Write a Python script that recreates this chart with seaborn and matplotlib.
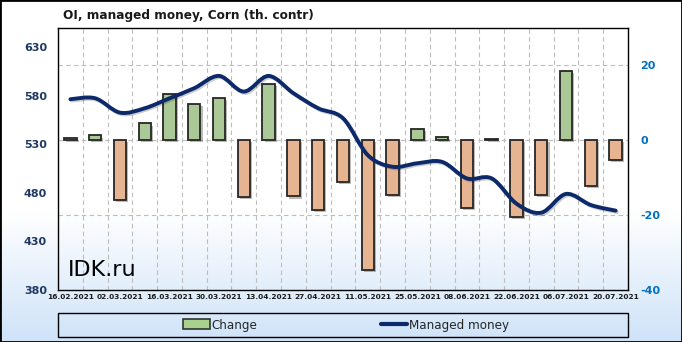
import numpy as np
import pandas as pd
import matplotlib
matplotlib.use("Agg")
import matplotlib.pyplot as plt
import matplotlib.patheffects as pe
from matplotlib.patches import Rectangle, Patch, PathPatch
from matplotlib.path import Path
from matplotlib.lines import Line2D
import seaborn as sns

dates = ["16.02.2021", "23.02.2021", "02.03.2021", "09.03.2021", "16.03.2021", "23.03.2021",
         "30.03.2021", "06.04.2021", "13.04.2021", "20.04.2021", "27.04.2021", "04.05.2021",
         "11.05.2021", "18.05.2021", "25.05.2021", "01.06.2021", "08.06.2021", "15.06.2021",
         "22.06.2021", "29.06.2021", "06.07.2021", "13.07.2021", "20.07.2021"]
change = [0.6, 1.3, -16.0, 4.5, 12.5, 9.8, 11.3, -15.1, 15.1, -15.0, -18.7, -11.2,
          -34.7, -14.5, 3.1, 1.0, -18.1, 0.3, -20.5, -14.5, 18.5, -12.3, -5.3]
managed = [576.6, 577.6, 562.8, 567.3, 577.6, 588.0, 600.6, 584.5, 600.6, 582.8, 567.3, 557.0,
           519.0, 507.0, 510.6, 512.0, 495.0, 495.0, 469.0, 459.7, 479.0, 467.6, 461.8]
left_ticks = [380, 430, 480, 530, 580, 630]
right_ticks = [-40, -20, 0, 20]

df = pd.DataFrame({"date": dates, "change": change, "managed": managed,
                   "pos": np.arange(len(dates))})
df["sign"] = np.where(df["change"] >= 0, "up", "down")

sns.set_style("white")
plt.rcParams["font.family"] = ["DejaVu Sans"]

fig = plt.figure(figsize=(6.82, 3.42), dpi=100)

# background gradient
bg = fig.add_axes([0, 0, 1, 1], zorder=-10)
yy = np.linspace(0, 1, 300)  # 0 top, 1 bottom
t = np.clip((yy - 0.62) / 0.38, 0, 1)
top = np.array([1.0, 1.0, 1.0])
bot = np.array([0.81, 0.89, 0.975])
grad = top[None, :] * (1 - t[:, None]) + bot[None, :] * t[:, None]
bg.imshow(grad[:, None, :], aspect="auto", extent=[0, 1, 0, 1])
bg.axis("off")

W, H = 682, 342
ax = fig.add_axes([58 / W, 1 - 290 / H, 570 / W, 262 / H])
ax.set_zorder(1)
ax.patch.set_visible(False)
ax2 = ax.twinx()
ax2.set_zorder(2)
ax2.patch.set_visible(False)

sns.barplot(data=df, x="date", y="change", hue="sign", order=dates,
            hue_order=["up", "down"], palette={"up": "#a9d18e", "down": "#f4b183"},
            dodge=False, width=0.5, edgecolor="#262626", linewidth=1.3,
            legend=False, ax=ax)
for p in ax.patches:
    p.set_path_effects([pe.SimplePatchShadow(offset=(1.5, -1.5), alpha=0.35), pe.Normal()])

ax.set_xlim(-0.5, len(dates) - 0.5)
ax.set_ylim(-40, 30)
ax.yaxis.tick_right()
ax.yaxis.set_label_position("right")
ax.set_yticks(right_ticks)
ax.set_yticklabels([str(v) for v in right_ticks], fontsize=8, fontweight="bold", color="#0070c0")
ax.tick_params(axis="y", length=0, pad=9)
ax.set_xticks(np.arange(0, len(dates), 2))
ax.set_xticklabels(dates[::2], fontsize=5.3, fontweight="bold", color="#1a1a1a")
ax.tick_params(axis="x", length=0, pad=3)
ax.set_xticks(np.arange(-0.5, len(dates), 1), minor=True)
ax.tick_params(axis="x", which="minor", length=0)
ax.grid(True, axis="y", which="major", linestyle=(0, (4, 3)), color="#bdbdbd", linewidth=0.8)
ax.grid(True, axis="x", which="minor", linestyle=(0, (4, 3)), color="#bdbdbd", linewidth=0.8)
ax.grid(False, axis="x", which="major")
ax.set_xlabel("")
ax.set_ylabel("")
for s in ax.spines.values():
    s.set_color("black")
    s.set_linewidth(1.0)

sns.lineplot(data=df, x="pos", y="managed", color="#0c2a6a", linewidth=2.8, ax=ax2)
# render the managed-money line as a smooth curve through the same data points
xs = df["pos"].to_numpy(dtype=float)
ys = df["managed"].to_numpy(dtype=float)
for ln in ax2.lines:
    ln.set_visible(False)
verts = [(xs[0], ys[0])]
codes = [Path.MOVETO]
n = len(xs)
for i in range(n - 1):
    p0 = np.array([xs[max(i - 1, 0)], ys[max(i - 1, 0)]])
    p1 = np.array([xs[i], ys[i]])
    p2 = np.array([xs[i + 1], ys[i + 1]])
    p3 = np.array([xs[min(i + 2, n - 1)], ys[min(i + 2, n - 1)]])
    c1 = p1 + (p2 - p0) / 6.0
    c2 = p2 - (p3 - p1) / 6.0
    verts += [tuple(c1), tuple(c2), tuple(p2)]
    codes += [Path.CURVE4, Path.CURVE4, Path.CURVE4]
ax2.add_patch(PathPatch(Path(verts, codes), fill=False, edgecolor="#0c2a6a", linewidth=2.8,
                        capstyle="round", joinstyle="round",
                        path_effects=[pe.SimpleLineShadow(offset=(1, -1), alpha=0.2), pe.Normal()]))

ax2.set_ylim(380, 650)
ax2.yaxis.tick_left()
ax2.yaxis.set_label_position("left")
ax2.set_yticks(left_ticks)
ax2.set_yticklabels([str(v) for v in left_ticks], fontsize=8, fontweight="bold", color="#1f3864")
ax2.tick_params(axis="y", length=0, pad=8)
ax2.set_xlabel("")
ax2.set_ylabel("")
for s in ax2.spines.values():
    s.set_visible(False)

ax.text(0.017, 0.075, "IDK.ru", transform=ax.transAxes, fontsize=16, color="black",
        va="center", ha="left", zorder=5)

fig.text(188 / W, 1 - 15 / H, "OI, managed money, Corn (th. contr)", ha="center", va="center",
         fontsize=8.7, fontweight="bold", color="#1a1a1a")

# legend
fig.patches.append(Rectangle((58 / W, 1 - 337 / H), 570 / W, 24 / H, transform=fig.transFigure,
                             fill=False, edgecolor="black", linewidth=1.0))
handles = [Patch(facecolor="#a9d18e", edgecolor="#333333", linewidth=1.2),
           Line2D([0], [0], color="#0c2a6a", linewidth=3)]
fig.legend(handles, ["Change", "Managed money"], loc="center",
           bbox_to_anchor=(346 / W, 1 - 325 / H), ncol=2, frameon=False,
           prop={"family": "DejaVu Sans", "stretch": "condensed", "size": 9.5},
           handlelength=2.0, handletextpad=0.1, columnspacing=9.4, handleheight=0.8)

fig.patches.append(Rectangle((0, 0), 1, 1, transform=fig.transFigure, fill=False,
                             edgecolor="black", linewidth=2.0))

fig.savefig("out.png", dpi=100)
